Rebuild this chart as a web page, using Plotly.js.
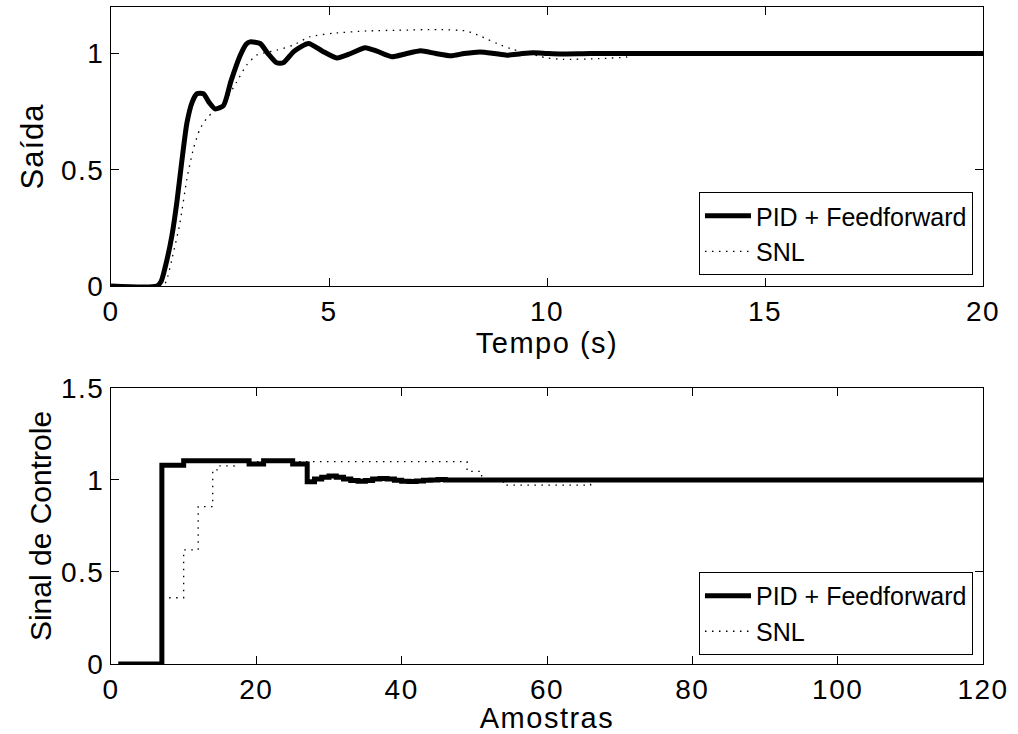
<!DOCTYPE html>
<html>
<head>
<meta charset="utf-8">
<script src="https://cdn.plot.ly/plotly-3.0.1.min.js"></script>
<style>
html,body{margin:0;padding:0;background:#fff;}
.xtick text,.ytick text,.x2tick text,.y2tick text{letter-spacing:1.5px;}
.g-xtitle text,.g-x2title text{letter-spacing:1.5px;}
.g-ytitle text{letter-spacing:1px;}
</style>
</head>
<body>
<div id="chart" style="width:1018px;height:734px;"></div>
<script>
// ---- Top panel: output vs time (s) ----
const pidTime = [0,1.05,1.15,1.28,1.4,1.51,1.62,1.74,1.86,1.97,2.12,2.25,2.39,2.58,2.75,2.96,3.1,3.19,3.42,3.6,3.8,3.95,4.2,4.53,4.85,5.18,5.5,5.83,6.1,6.44,6.75,7.1,7.45,7.8,8.1,8.46,8.8,9.08,9.4,9.68,10.0,10.3,11,12,20];
const pidOut  = [0,0,0.02,0.11,0.22,0.36,0.53,0.70,0.79,0.827,0.827,0.79,0.762,0.776,0.88,0.99,1.04,1.05,1.043,1.0,0.96,0.96,1.01,1.043,1.01,0.981,1.0,1.025,1.01,0.986,0.998,1.012,1.0,0.99,1.0,1.007,1.0,0.993,0.999,1.003,1.0,0.998,1.0,1.0,1.0];

const snlTime = [0,1.2,1.3,1.39,1.58,1.74,1.89,2.04,2.19,2.35,2.5,2.65,2.88,3.11,3.34,3.57,3.8,4.18,4.56,5.1,5.86,6.6,7.5,8.16,8.27,8.46,8.65,8.85,9.23,9.42,9.8,9.99,10.37,11.2,11.83,12.0,12.3,20];
const snlOut  = [0,0,0.04,0.11,0.27,0.46,0.59,0.675,0.72,0.75,0.775,0.805,0.877,0.95,0.993,1.005,1.014,1.036,1.072,1.087,1.097,1.10,1.103,1.097,1.09,1.076,1.06,1.043,1.017,1.008,0.99,0.981,0.975,0.978,0.985,0.993,1.0,1.0];

// ---- Bottom panel: control signal vs samples (stairs, value held from each sample) ----
const pidSamples = [1,7,10,19,21,25,27,28,29,30,31,32,33,34,35,36,37,38,39,40,41,42,43,44,45,46,120];
const pidControl = [0,1.08,1.105,1.087,1.105,1.087,0.99,1.005,1.015,1.022,1.015,1.005,0.997,0.993,0.997,1.005,1.008,1.005,0.998,0.993,0.992,0.995,0.998,1.0,1.002,1.0,1.0];

const snlSamples = [8,10,12,14,15,17,49,51,54,66,120];
const snlControl = [0.36,0.62,0.855,1.055,1.077,1.10,1.047,1.0,0.972,1.0,1.0];

const seriesNames = ['PID + Feedforward', 'SNL'];
const topXTicks = [0,5,10,15,20];
const topYTicks = [0,0.5,1];
const botXTicks = [0,20,40,60,80,100,120];
const botYTicks = [0,0.5,1,1.5];

const FONT = 'Liberation Sans, Arial, Helvetica, sans-serif';
const solid = {color:'#000', width:5};
const dotted = {color:'#000', width:1.3, dash:'1.5px,5.5px'};

const traces = [
  {x:pidTime, y:pidOut, type:'scatter', mode:'lines', name:seriesNames[0], line:Object.assign({shape:'spline', smoothing:0.6}, solid), xaxis:'x', yaxis:'y', legend:'legend', legendrank:1},
  {x:snlTime, y:snlOut, type:'scatter', mode:'lines', name:seriesNames[1], line:Object.assign({shape:'spline', smoothing:0.6}, dotted), xaxis:'x', yaxis:'y', legend:'legend', legendrank:2},
  {x:pidSamples, y:pidControl, type:'scatter', mode:'lines', name:seriesNames[0], line:Object.assign({shape:'hv'}, solid), xaxis:'x2', yaxis:'y2', legend:'legend2', legendrank:1},
  {x:snlSamples, y:snlControl, type:'scatter', mode:'lines', name:seriesNames[1], line:Object.assign({shape:'hv'}, dotted), xaxis:'x2', yaxis:'y2', legend:'legend2', legendrank:2}
];
// draw dotted under solid
const ordered = [traces[1], traces[0], traces[3], traces[2]];

const axisBase = {
  showline:true, linecolor:'#000', linewidth:1, mirror:'ticks',
  ticks:'inside', ticklen:8, tickcolor:'#000', tickwidth:1,
  showgrid:false, zeroline:false,
  tickfont:{family:FONT, size:28, color:'#000'},
  automargin:false
};

const legendBase = {xanchor:'right', yanchor:'bottom', bgcolor:'#fff', bordercolor:'#000', borderwidth:1,
  font:{family:FONT, size:25, color:'#000'}, tracegroupgap:0, traceorder:'normal', itemwidth:46};

const layout = {
  width:1018, height:734,
  margin:{l:111, r:35, t:7, b:70},
  paper_bgcolor:'#fff', plot_bgcolor:'#fff',
  font:{family:FONT, color:'#000'},
  showlegend:true,
  xaxis:Object.assign({}, axisBase, {domain:[0,1], anchor:'y', range:[0,20], tickvals:topXTicks, ticktext:topXTicks.map(String),
    title:{text:'Tempo (s)', font:{family:FONT, size:29, color:'#000'}, standoff:1}}),
  yaxis:Object.assign({}, axisBase, {domain:[0.5753,1], anchor:'x', range:[0,1.2], tickvals:topYTicks, ticktext:topYTicks.map(String),
    title:{text:'Saída', font:{family:FONT, size:31, color:'#000'}, standoff:8}}),
  xaxis2:Object.assign({}, axisBase, {domain:[0,1], anchor:'y2', range:[0,120], tickvals:botXTicks, ticktext:botXTicks.map(String),
    title:{text:'Amostras', font:{family:FONT, size:29, color:'#000'}, standoff:0}}),
  yaxis2:Object.assign({}, axisBase, {domain:[0,0.4201], anchor:'x2', range:[0,1.5], tickvals:botYTicks, ticktext:botYTicks.map(String),
    title:{text:'Sinal de Controle', font:{family:FONT, size:30, color:'#000'}, standoff:0}}),
  legend:Object.assign({x:0.9885, y:0.592}, legendBase),
  legend2:Object.assign({x:0.9885, y:0.0137}, legendBase)
};

Plotly.newPlot('chart', ordered, layout, {displayModeBar:false, staticPlot:true});
</script>
</body>
</html>
